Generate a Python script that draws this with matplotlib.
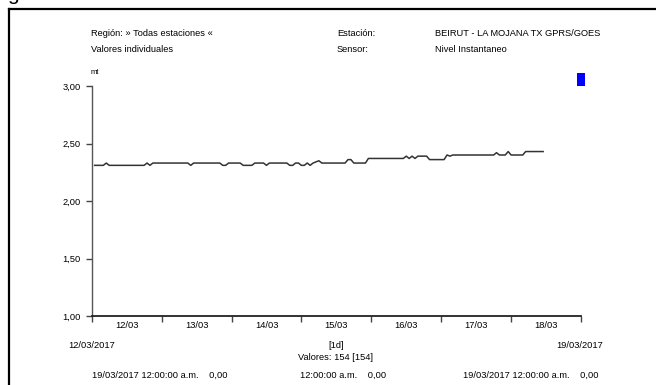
import matplotlib
matplotlib.use('Agg')
import matplotlib.pyplot as plt
from matplotlib.patches import Rectangle
from matplotlib.lines import Line2D
from datetime import datetime, timedelta

plt.rcParams['font.family'] = ['Liberation Sans Narrow', 'Liberation Sans', 'DejaVu Sans']

# nivel instantaneo (mt), un valor por hora desde 12/03/2017 01:00
nivel = [
    2.31, 2.31, 2.31, 2.31, 2.33, 2.31, 2.31, 2.31, 2.31, 2.31,
    2.31, 2.31, 2.31, 2.31, 2.31, 2.31, 2.31, 2.31, 2.33, 2.31,
    2.33, 2.33, 2.33, 2.33, 2.33, 2.33, 2.33, 2.33, 2.33, 2.33,
    2.33, 2.33, 2.33, 2.31, 2.33, 2.33, 2.33, 2.33, 2.33, 2.33,
    2.33, 2.33, 2.33, 2.33, 2.31, 2.31, 2.33, 2.33, 2.33, 2.33,
    2.33, 2.31, 2.31, 2.31, 2.31, 2.33, 2.33, 2.33, 2.33, 2.31,
    2.33, 2.33, 2.33, 2.33, 2.33, 2.33, 2.33, 2.31, 2.31, 2.33,
    2.33, 2.31, 2.31, 2.33, 2.31, 2.33, 2.34, 2.35, 2.33, 2.33,
    2.33, 2.33, 2.33, 2.33, 2.33, 2.33, 2.33, 2.36, 2.36, 2.33,
    2.33, 2.33, 2.33, 2.33, 2.37, 2.37, 2.37, 2.37, 2.37, 2.37,
    2.37, 2.37, 2.37, 2.37, 2.37, 2.37, 2.37, 2.39, 2.37, 2.39,
    2.37, 2.39, 2.39, 2.39, 2.39, 2.36, 2.36, 2.36, 2.36, 2.36,
    2.36, 2.40, 2.39, 2.40, 2.40, 2.40, 2.40, 2.40, 2.40, 2.40,
    2.40, 2.40, 2.40, 2.40, 2.40, 2.40, 2.40, 2.40, 2.42, 2.40,
    2.40, 2.40, 2.43, 2.40, 2.40, 2.40, 2.40, 2.40, 2.43, 2.43,
    2.43, 2.43, 2.43, 2.43, 2.43,
]
inicio = datetime(2017, 3, 12, 1)
horas = [inicio + timedelta(hours=i) for i in range(len(nivel))]

dias = ['12/03', '13/03', '14/03', '15/03', '16/03', '17/03', '18/03']
y_ticks = [1.0, 1.5, 2.0, 2.5, 3.0]
y_labels = ['1,00', '1,50', '2,00', '2,50', '3,00']

W, H = 656, 385
fig = plt.figure(figsize=(W / 100, H / 100), dpi=100)

def fx(px):
    return px / W

def fy(py):
    return 1 - py / H

fs = 6.7

ax = fig.add_axes([fx(91.7), fy(316), fx(581) - fx(91.7), fy(86) - fy(316)])
ax.plot(horas, nivel, color='#333333', lw=1.1)

dia0 = datetime(2017, 3, 12)
ax.set_xlim(dia0, dia0 + timedelta(days=7))
ax.set_ylim(1, 3)

ax.set_xticks([dia0 + timedelta(days=i) for i in range(8)])
ax.set_xticklabels([])
ax.set_xticks([dia0 + timedelta(days=i, hours=12) for i in range(7)], minor=True)
ax.set_xticklabels(dias, minor=True, fontsize=fs)
ax.tick_params(axis='x', which='major', length=4.5, width=1, color='#444444', direction='out')
ax.tick_params(axis='x', which='minor', length=0, pad=3.5)

ax.set_yticks(y_ticks)
ax.set_yticklabels(y_labels, fontsize=fs)
ax.tick_params(axis='y', length=4, width=1, color='#444444', pad=4)

for s in ['top', 'right']:
    ax.spines[s].set_visible(False)
ax.spines['left'].set_color('#555555')
ax.spines['left'].set_linewidth(1)
ax.spines['bottom'].set_color('#222222')
ax.spines['bottom'].set_linewidth(1.3)

fig.text(fx(91), fy(34), 'Región: » Todas estaciones «', fontsize=fs, va='center')
fig.text(fx(91), fy(50), 'Valores individuales', fontsize=fs, va='center')
fig.text(fx(337), fy(34), 'Estación:', fontsize=fs, va='center')
fig.text(fx(337), fy(50), 'Sensor:', fontsize=fs, va='center')
fig.text(fx(435), fy(34), 'BEIRUT - LA MOJANA TX GPRS/GOES', fontsize=fs, va='center')
fig.text(fx(435), fy(50), 'Nivel Instantaneo', fontsize=fs, va='center')
fig.text(fx(91), fy(72), 'mt', fontsize=5.5, va='center')

fig.text(fx(91.5), fy(345), '12/03/2017', fontsize=fs, va='center', ha='center')
fig.text(fx(580), fy(345), '19/03/2017', fontsize=fs, va='center', ha='center')
fig.text(fx(336), fy(345), '[1d]', fontsize=fs, va='center', ha='center')
fig.text(fx(336), fy(358), 'Valores: 154 [154]', fontsize=fs, va='center', ha='center')
fig.text(fx(92), fy(375), '19/03/2017 12:00:00 a.m.    0,00', fontsize=fs, va='center')
fig.text(fx(300), fy(375), '12:00:00 a.m.    0,00', fontsize=fs, va='center')
fig.text(fx(463), fy(375), '19/03/2017 12:00:00 a.m.    0,00', fontsize=fs, va='center')

# cuadro azul de la leyenda
fig.patches.append(Rectangle((fx(577), fy(86)), fx(8), 13 / H, transform=fig.transFigure,
                             facecolor='#0000ff', edgecolor='none'))

# marco exterior
fig.add_artist(Line2D([fx(9), fx(9)], [0, fy(9)], color='black', lw=1.6))
fig.add_artist(Line2D([fx(9), 1], [fy(9), fy(9)], color='black', lw=1.6))
fig.text(fx(7), fy(0.5), 'g', fontsize=15, va='baseline', family=['Liberation Sans', 'DejaVu Sans'])

fig.savefig('out.png', dpi=100)
